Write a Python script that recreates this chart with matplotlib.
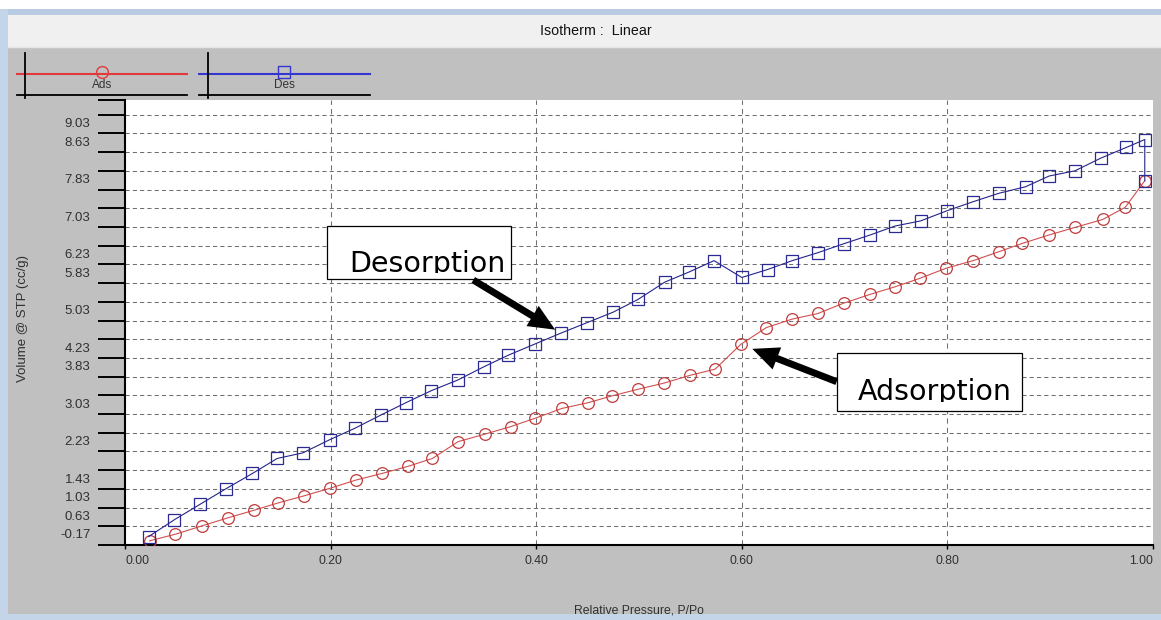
import numpy as np
import matplotlib
matplotlib.use("Agg")
import matplotlib.pyplot as plt
from matplotlib.patches import Rectangle
from matplotlib.lines import Line2D
from matplotlib.transforms import ScaledTranslation, Bbox, TransformedBbox

# ---------------- data ----------------
ads_x = [0.024, 0.049, 0.075, 0.100, 0.125, 0.149, 0.174, 0.199, 0.225, 0.250,
         0.275, 0.299, 0.324, 0.350, 0.375, 0.399, 0.425, 0.450, 0.474, 0.499,
         0.524, 0.550, 0.574, 0.599, 0.624, 0.649, 0.674, 0.699, 0.725, 0.749,
         0.773, 0.799, 0.825, 0.850, 0.873, 0.899, 0.924, 0.951, 0.973, 0.992]
ads_y = [-0.08, 0.06, 0.24, 0.41, 0.57, 0.73, 0.88, 1.04, 1.22, 1.36,
         1.51, 1.68, 2.04, 2.20, 2.36, 2.54, 2.75, 2.87, 3.02, 3.16,
         3.29, 3.46, 3.59, 4.12, 4.48, 4.66, 4.78, 5.00, 5.19, 5.35,
         5.53, 5.75, 5.91, 6.10, 6.28, 6.46, 6.62, 6.79, 7.05, 7.62]

des_x = [0.992, 0.992, 0.974, 0.949, 0.924, 0.899, 0.876, 0.850, 0.825, 0.800,
         0.774, 0.749, 0.725, 0.699, 0.674, 0.649, 0.625, 0.600, 0.573, 0.549,
         0.525, 0.499, 0.475, 0.449, 0.424, 0.399, 0.373, 0.349, 0.324, 0.298,
         0.273, 0.249, 0.224, 0.199, 0.173, 0.148, 0.124, 0.098, 0.073, 0.048,
         0.023]
des_y = [7.62, 8.50, 8.33, 8.10, 7.83, 7.72, 7.49, 7.35, 7.17, 6.98,
         6.76, 6.65, 6.46, 6.27, 6.08, 5.91, 5.72, 5.55, 5.91, 5.67,
         5.45, 5.08, 4.81, 4.58, 4.36, 4.13, 3.89, 3.64, 3.36, 3.13,
         2.87, 2.61, 2.33, 2.08, 1.80, 1.68, 1.36, 1.03, 0.70, 0.37,
         0.01]

x_ticks = [0.0, 0.2, 0.4, 0.6, 0.8, 1.0]
x_tick_labels = ["0.00", "0.20", "0.40", "0.60", "0.80", "1.00"]
y_base = -0.17
y_step = 0.4
y_count = 24
y_labeled = ["9.03", "8.63", "7.83", "7.03", "6.23", "5.83", "5.03", "4.23",
             "3.83", "3.03", "2.23", "1.43", "1.03", "0.63", "-0.17"]
y_top = 9.345

title_text = "Isotherm :  Linear"
x_label = "Relative Pressure, P/Po"
y_label = "Volume @ STP (cc/g)"
series_names = ["Ads", "Des"]
note_des = "Desorption"
note_ads = "Adsorption"

# ---------------- figure ----------------
W, H = 1161, 620
fig = plt.figure(figsize=(W / 100, H / 100), dpi=100, facecolor="#c0c0c0")
REG = ["Liberation Sans", "DejaVu Sans"]

bg = fig.add_axes([0, 0, 1, 1], zorder=0)
bg.set_xlim(0, W)
bg.set_ylim(H, 0)
bg.axis("off")
bg.add_patch(Rectangle((0, 0), W, 9, fc="white", ec="none"))
bg.add_patch(Rectangle((0, 9), W, 6, fc="#b9cbe3", ec="none"))
bg.add_patch(Rectangle((8, 15), W - 8, 32, fc="#f0f0f0", ec="none"))
bg.add_line(Line2D([8, W], [47, 47], color="#e6e6e6", lw=1))
bg.add_patch(Rectangle((0, 9), 8, H - 9, fc="#c4d5ea", ec="none"))
bg.add_patch(Rectangle((0, 614), W, 6, fc="#c4d5ea", ec="none"))
bg.text(596, 31, title_text, ha="center", va="center", fontsize=10.3,
        family=REG, color="#111111")

# ---------------- main axes ----------------
ax = fig.add_axes([125 / W, (H - 545) / H, 1028 / W, (545 - 100) / H], zorder=1)
ax.set_facecolor("white")
ax.set_xlim(0, 1)
ax.set_ylim(y_base, y_top)
for s in ("top", "right"):
    ax.spines[s].set_visible(False)
for s in ("left", "bottom"):
    ax.spines[s].set_linewidth(1.5)
    ax.spines[s].set_color("black")

y_grid = [y_base + y_step * k for k in range(y_count)]
ax.hlines(y_grid[1:], 0, 1, colors="#707070", linestyles=(0, (4, 3)),
          lw=0.75, zorder=1)
ax.vlines(x_ticks[1:-1], y_base, y_top, colors="#707070",
          linestyles=(0, (5, 4)), lw=0.75, zorder=1)

ax.plot(ads_x, ads_y, color="#d05050", lw=0.8, marker="o", ms=8.4,
        mfc="none", mec="#bf3a3a", mew=0.9, zorder=3)
ax.plot(des_x, des_y, color="#24248a", lw=0.8, marker="s", ms=8.6,
        mfc="none", mec="#2a2a92", mew=0.9, zorder=4)

# y ticks
y_tick_pos = y_grid + [y_top]
y_tick_txt = []
for v in y_tick_pos:
    s = f"{v:.2f}"
    y_tick_txt.append(s if (s in y_labeled and v != y_top) else "")
ax.set_yticks(y_tick_pos, y_tick_txt)
ax.tick_params(axis="y", direction="out", length=19.4, width=1.4, pad=5.5,
               labelsize=9.5, color="black", labelcolor="#303030")
ax.set_xticks(x_ticks, x_tick_labels)
ax.tick_params(axis="x", direction="out", length=3, width=1, pad=4,
               labelsize=8.8, color="black", labelcolor="#303030")
for lab in ax.get_yticklabels() + ax.get_xticklabels():
    lab.set_fontfamily(REG)

for tick, v in zip(ax.yaxis.get_major_ticks(), y_tick_pos):
    dy = 11 if abs(v - y_base) < 1e-6 else -8
    tick.label1.set_transform(tick.label1.get_transform() +
                              ScaledTranslation(0, dy / 100, fig.dpi_scale_trans))
xt = ax.xaxis.get_major_ticks()
xt[0].label1.set_horizontalalignment("left")
xt[-1].label1.set_horizontalalignment("right")

ax.set_xlabel(x_label, fontsize=8.8, family=REG, color="#303030")
ax.xaxis.set_label_coords(0.5, -0.134)
ax.xaxis.label.set_verticalalignment("top")
ax.set_ylabel(y_label, fontsize=9.5, family=REG, color="#303030")
ax.yaxis.set_label_coords(-0.093, 0.51)

# ---------------- annotations ----------------
def note(text, box, tx, ty, clip_y, tail, target, shrink):
    x0, y0, x1, y1 = box
    ax.add_patch(Rectangle((x0, y0), x1 - x0, y1 - y0, fc="white", ec="black",
                           lw=0.9, zorder=5))
    t = ax.text(tx, ty, text, fontsize=20.5, family="DejaVu Sans",
                color="black", va="baseline", ha="left", zorder=6)
    t.set_clip_on(True)
    t.set_clip_box(TransformedBbox(Bbox([[x0, clip_y], [x1, y1]]), ax.transData))
    ax.annotate("", xy=target, xytext=tail, zorder=7,
                arrowprops=dict(arrowstyle="simple,head_length=1.9,head_width=1.7,tail_width=0.5",
                                mutation_scale=10, fc="black", ec="black", lw=0,
                                shrinkA=0, shrinkB=shrink))

note(note_des, (0.1968, 5.511, 0.3755, 6.657), 0.2179, 5.667, 5.646,
     (0.3388, 5.496), (des_x[24], des_y[24]), 4.8)
note(note_ads, (0.6923, 2.702, 0.8723, 3.929), 0.7133, 2.930, 2.898,
     (0.6923, 3.322), (ads_x[23], ads_y[23]), 8.9)

# ---------------- legend strip ----------------
ov = fig.add_axes([0, 0, 1, 1], zorder=2)
ov.set_xlim(0, W)
ov.set_ylim(H, 0)
ov.axis("off")
ov.patch.set_alpha(0)
leg = [(series_names[0], 17, 187, 25, 102, "#e23a3a", "o", 8.5),
       (series_names[1], 199, 370, 208, 284, "#3535d0", "s", 8.5)]
for name, xa, xb, xv, xm, col, mk, ms in leg:
    ov.add_line(Line2D([xa, xb], [74, 74], color=col, lw=1.5))
    ov.add_line(Line2D([xm], [71.5], marker=mk, ms=ms, mfc="none", mec=col,
                       mew=1.0, ls="none"))
    ov.add_line(Line2D([xv, xv], [53, 98], color="black", lw=1.3))
    ov.add_line(Line2D([xa, xb], [95, 95], color="black", lw=1.3))
    ov.text(xm, 85, name, ha="center", va="center", fontsize=8.5,
            family=REG, color="#333333")

fig.savefig("out.png", dpi=100, facecolor=fig.get_facecolor())
